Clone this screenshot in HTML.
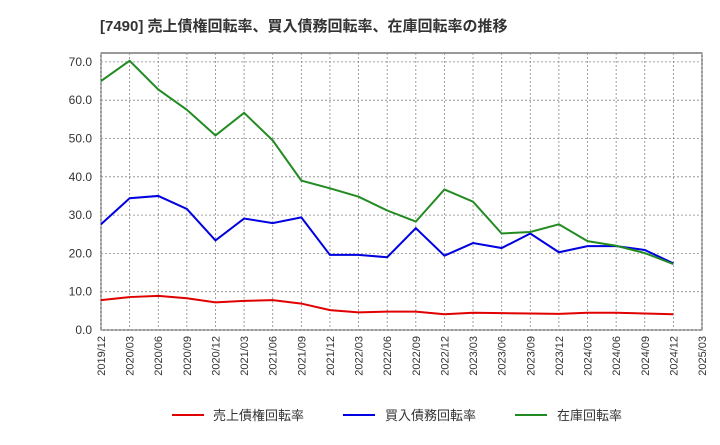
<!DOCTYPE html>
<html><head><meta charset="utf-8"><style>
body{margin:0;background:#fff;font-family:"Liberation Sans","Noto Sans CJK JP",sans-serif;}
</style></head><body>
<svg width="720" height="440" xmlns="http://www.w3.org/2000/svg" font-family="Liberation Sans, Noto Sans CJK JP, sans-serif">
<text x="100" y="31" font-size="15" font-weight="bold" fill="#333">[7490]  売上債権回転率、買入債務回転率、在庫回転率の推移</text>
<rect x="101" y="53" width="601" height="277" fill="#fff" stroke="#333" stroke-width="1"/>
<g id="grid"></g><g id="axes"></g><g id="series"></g>
<g font-size="13" fill="#333">
<line x1="172" y1="415" x2="204" y2="415" stroke="#e00000" stroke-width="2"/><text x="213" y="420">売上債権回転率</text>
<line x1="343" y1="415" x2="375" y2="415" stroke="#0000e0" stroke-width="2"/><text x="385" y="420">買入債務回転率</text>
<line x1="515" y1="415" x2="547" y2="415" stroke="#228b22" stroke-width="2"/><text x="557" y="420">在庫回転率</text>
</g>
</svg>
<script>
const tickLabels=["2019/12","2020/03","2020/06","2020/09","2020/12","2021/03","2021/06","2021/09","2021/12","2022/03","2022/06","2022/09","2022/12","2023/03","2023/06","2023/09","2023/12","2024/03","2024/06","2024/09","2024/12","2025/03"];
const yTicks=[0,10,20,30,40,50,60,70];
const receivables=[7.8,8.6,8.9,8.3,7.2,7.6,7.8,6.9,5.2,4.6,4.8,4.8,4.1,4.5,4.4,4.3,4.2,4.5,4.5,4.3,4.1];
const payables=[27.6,34.4,35,31.6,23.4,29.1,27.9,29.4,19.6,19.6,19,26.6,19.4,22.7,21.4,25.2,20.3,21.9,21.9,20.9,17.4];
const inventory=[65,70.3,62.8,57.5,50.8,56.7,49.5,39,37,34.8,31.2,28.3,36.7,33.5,25.2,25.6,27.6,23.2,22,20.1,17.2];
const NS="http://www.w3.org/2000/svg";
const x=i=>101+i*(601/(tickLabels.length-1));
const y=v=>330-v*3.83;
function mk(t,a,p){const e=document.createElementNS(NS,t);for(const k in a)e.setAttribute(k,a[k]);p.appendChild(e);return e;}
const g=document.getElementById('grid'),ax=document.getElementById('axes'),s=document.getElementById('series');
yTicks.forEach(v=>{
 const l=mk('line',{x1:101,x2:702,y1:y(v),y2:y(v),stroke:'#888','stroke-dasharray':'2,2','stroke-width':0.8},g);
 
 
 const t=mk('text',{x:92,y:y(v)+4,'font-size':12,'text-anchor':'end',fill:'#333'},ax);t.textContent=v.toFixed(1);
 
 
});
tickLabels.forEach((lb,i)=>{
 const l=mk('line',{x1:x(i),x2:x(i),y1:53,y2:330,stroke:'#888','stroke-dasharray':'2,2','stroke-width':0.8},g);
 
 
 const t=mk('text',{x:0,y:0,'font-size':11,'text-anchor':'end',fill:'#333',transform:`translate(${x(i)+4},336) rotate(-90)`},ax);t.textContent=lb;
 
 
});
[[receivables,'#e00000','receivables-line'],[payables,'#0000e0','payables-line'],[inventory,'#228b22','inventory-line']].forEach(([d,c,n])=>{
 const p=mk('polyline',{points:d.map((v,i)=>x(i)+','+y(v)).join(' '),fill:'none',stroke:c,'stroke-width':2},s);
 
 
});
</script>
</body></html>
